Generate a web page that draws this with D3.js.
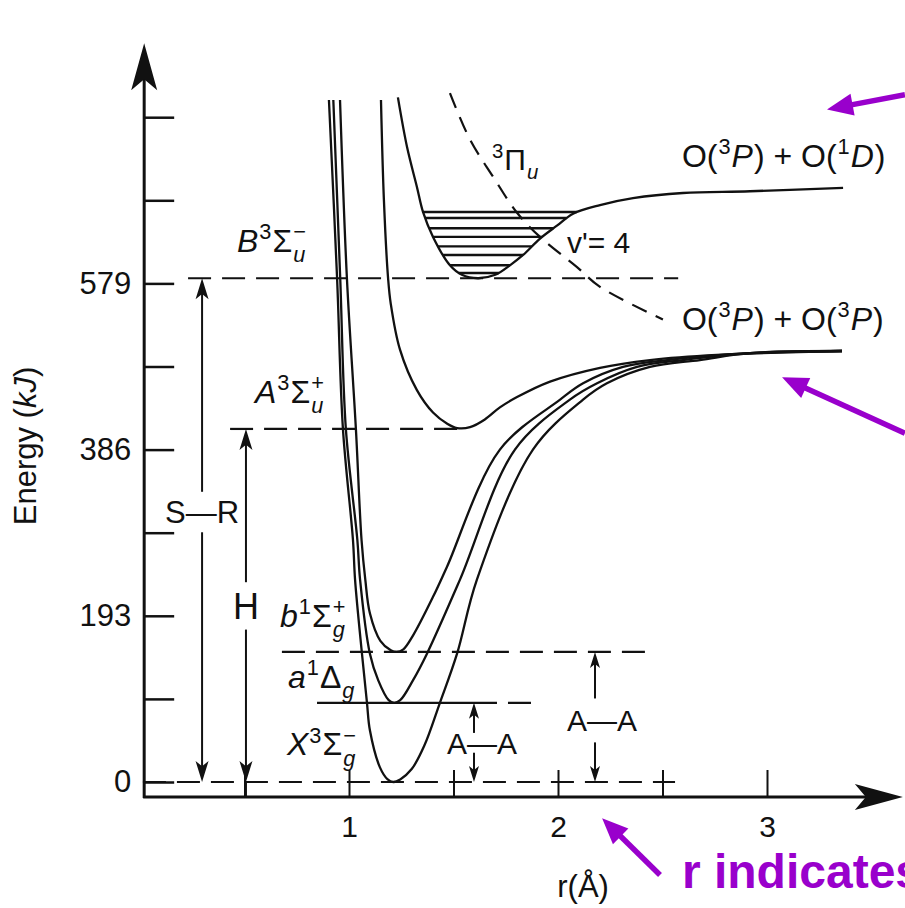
<!DOCTYPE html>
<html>
<head>
<meta charset="utf-8">
<script src="https://cdn.jsdelivr.net/npm/d3@7"></script>
<style>
  body { margin: 0; background: #fff; }
  svg { display: block; font-family: "Liberation Sans", Arial, sans-serif; }
</style>
</head>
<body>
<div id="chart"></div>
<script>
// energy axis ticks (kJ) and their labels
var yTicks = [0, 96.5, 193, 289.5, 386, 482.5, 579, 675.5, 772];
var yLabels = ["0", "", "193", "", "386", "", "579", "", ""];
// r axis ticks (Angstrom)
var xTicks = [0.5, 1, 1.5, 2, 2.5, 3];
var xLabels = ["", "1", "", "2", "", "3"];

// potential curves, [r (A), E (kJ)]
var curveX = [[0.904,792],[0.943,585],[0.971,410],[1.019,281],[1.029,235],[1.062,149],[1.086,92],[1.100,60],[1.148,17],[1.185,3],[1.211,0],[1.245,3],[1.300,15],[1.360,42],[1.435,92],[1.517,149],[1.612,235],[1.880,386],[2.120,444],[2.234,463],[2.440,482],[2.679,490],[2.919,498],[3.359,500.5]];
var curveA1 = [[0.925,792],[0.958,585],[0.985,410],[1.040,281],[1.053,235],[1.100,149],[1.140,118],[1.190,95],[1.216,92],[1.245,95],[1.306,118],[1.373,149],[1.531,235],[1.794,386],[2.057,444],[2.187,463],[2.378,482],[2.598,490],[2.919,498],[3.359,500.5]];
var curveB1 = [[0.957,792],[0.990,585],[1.033,410],[1.060,281],[1.078,235],[1.100,196],[1.150,164],[1.200,153],[1.228,151],[1.260,154],[1.306,170],[1.402,215],[1.469,250],[1.722,386],[2.010,444],[2.120,463],[2.311,482],[2.522,490],[2.919,498],[3.359,500.5]];
var curveAu = [[1.153,792],[1.167,676],[1.187,585],[1.200,555],[1.244,502],[1.325,455],[1.402,429],[1.470,416],[1.517,411],[1.579,412],[1.650,421],[1.722,435],[1.804,447],[1.962,465],[2.201,481],[2.440,490],[2.761,496],[3.359,500.5]];
var curveBu = [[1.234,795],[1.278,737],[1.325,691],[1.354,662],[1.402,633],[1.483,600],[1.540,589],[1.617,585],[1.700,589],[1.770,600],[1.833,612],[1.914,631],[1.995,646],[2.072,660],[2.201,670],[2.359,678],[2.598,684],[2.919,686],[3.364,690]];
var curvePi = [[1.483,800],[1.579,746],[1.689,703],[1.804,661],[1.914,633],[2.091,598],[2.201,575],[2.502,537]];

// vibrational levels in the B well (kJ)
var vibLevels = [662, 655, 643, 633, 622, 612, 600, 591];

// horizontal energy levels: [r from, r to, E, dashed]
var levels = [
  [0.014, 2.56, 0, true],
  [0.23, 2.575, 585, true],
  [0.431, 1.565, 410, true],
  [0.679, 2.416, 151, true],
  [0.847, 1.598, 92, false],
  [1.598, 1.876, 92, true]
];

// double arrows with a label: [r, E from, E to, label, gap lo, gap hi, size, label shift]
var gaps = [
  [0.297, 0, 585, "S\u2014R", 290, 337, 31, 0],
  [0.507, 0, 410, "H", 177, 232, 36, 0],
  [1.598, 0, 92, "A\u2014A", 34, 57, 30, 8],
  [2.177, 0, 151, "A\u2014A", 46, 97, 30, 7]
];

var width = 905, height = 908;
var x = d3.scaleLinear().domain([1, 3]).range([349, 767]);
var y = d3.scaleLinear().domain([0, 579]).range([782, 283.4]);
var rAxis = 0.02, eAxis = -17.4, eTop = 858, rEnd = 3.65;
var ink = "#111";
var purple = "#9900cc";

var svg = d3.select("#chart").append("svg")
    .attr("width", width)
    .attr("height", height);
svg.append("rect").attr("width", width).attr("height", height).attr("fill", "#fff");

var line = d3.line()
    .x(function(d) { return x(d[0]); })
    .y(function(d) { return y(d[1]); })
    .curve(d3.curveCatmullRom.alpha(0.5));

// axes
var yAxis = d3.axisLeft(y).tickValues(yTicks).tickSize(-30).tickPadding(13)
    .tickFormat(function(d, i) { return yLabels[i]; });
var gy = svg.append("g").attr("transform", "translate(" + x(rAxis) + ",0)").call(yAxis);
gy.select(".domain").remove();
gy.selectAll("line").attr("stroke", ink).attr("stroke-width", 2.5);
gy.selectAll("text").attr("font-size", 31).attr("fill", ink)
    .attr("font-family", "'Liberation Sans', Arial, sans-serif");

var xAxis = d3.axisBottom(x).tickValues(xTicks).tickSize(-27).tickPadding(19)
    .tickFormat(function(d, i) { return xLabels[i]; });
var gx = svg.append("g").attr("transform", "translate(0," + y(eAxis) + ")").call(xAxis);
gx.select(".domain").remove();
gx.selectAll("line").attr("stroke", ink).attr("stroke-width", 2);
gx.selectAll("text").attr("font-size", 30).attr("fill", ink)
    .attr("font-family", "'Liberation Sans', Arial, sans-serif");

// axis lines with arrows
var ax0 = x(rAxis), ay0 = y(eAxis), ayTop = y(eTop), axEnd = x(rEnd);
svg.append("line").attr("x1", ax0).attr("y1", ay0 + 1).attr("x2", ax0).attr("y2", ayTop + 20)
    .attr("stroke", ink).attr("stroke-width", 3);
svg.append("line").attr("x1", ax0 - 1).attr("y1", ay0).attr("x2", axEnd - 20).attr("y2", ay0)
    .attr("stroke", ink).attr("stroke-width", 3);
svg.append("path")
    .attr("d", "M" + ax0 + "," + ayTop + "L" + (ax0 - 13) + "," + (ayTop + 47) + "L" + ax0 + "," + (ayTop + 36) +
               "L" + (ax0 + 13) + "," + (ayTop + 47) + "Z")
    .attr("fill", ink);
svg.append("path")
    .attr("d", "M" + axEnd + "," + ay0 + "L" + (axEnd - 48) + "," + (ay0 - 13) + "L" + (axEnd - 37) + "," + ay0 +
               "L" + (axEnd - 48) + "," + (ay0 + 13) + "Z")
    .attr("fill", ink);

// axis titles
svg.append("text")
    .attr("transform", "translate(36," + 446 + ") rotate(-90)")
    .attr("text-anchor", "middle")
    .attr("font-size", 31)
    .attr("fill", ink)
    .html("Energy (<tspan font-style='italic'>kJ</tspan>)");
svg.append("text")
    .attr("x", x(2.12)).attr("y", 897)
    .attr("text-anchor", "middle")
    .attr("font-size", 31)
    .attr("fill", ink)
    .text("r(\u00c5)");

// energy levels
svg.selectAll(".level").data(levels).enter().append("line")
    .attr("class", "level")
    .attr("x1", function(d) { return x(d[0]); })
    .attr("x2", function(d) { return x(d[1]); })
    .attr("y1", function(d) { return y(d[2]); })
    .attr("y2", function(d) { return y(d[2]); })
    .attr("stroke", ink)
    .attr("stroke-width", 2.2)
    .attr("stroke-dasharray", function(d) { return d[3] ? "23,11" : null; });

// potential curves
var curves = [curveX, curveA1, curveB1, curveAu, curveBu];
svg.selectAll(".pot").data(curves).enter().append("path")
    .attr("class", "pot")
    .attr("d", line)
    .attr("fill", "none")
    .attr("stroke", ink)
    .attr("stroke-width", 2.3);
svg.append("path")
    .attr("d", line(curvePi))
    .attr("fill", "none")
    .attr("stroke", ink)
    .attr("stroke-width", 2.2)
    .attr("stroke-dasharray", "16,10");

// vibrational levels inside the B well, clipped to the B curve
var bNode = svg.selectAll(".pot").nodes()[4];
var total = bNode.getTotalLength();
var pts = [];
for (var s = 0; s <= total; s += 0.5) pts.push(bNode.getPointAtLength(s));
vibLevels.forEach(function(e) {
  var yy = y(e), xs = [];
  for (var i = 0; i < pts.length - 1; i++) {
    var a = pts[i], b = pts[i + 1];
    if ((a.y - yy) * (b.y - yy) <= 0 && a.y !== b.y) {
      xs.push(a.x + (b.x - a.x) * (yy - a.y) / (b.y - a.y));
    }
  }
  if (xs.length < 2) return;
  svg.append("line")
    .attr("x1", d3.min(xs)).attr("x2", d3.max(xs))
    .attr("y1", yy).attr("y2", yy)
    .attr("stroke", ink).attr("stroke-width", 2.4);
});

// arrows between levels
function head(px, py, dir, len, hw) {
  // dir = -1 tip points up, +1 tip points down
  return "M" + px + "," + py + "L" + (px - hw) + "," + (py - dir * len) + "L" + px + "," + (py - dir * len * 0.75) +
         "L" + (px + hw) + "," + (py - dir * len) + "Z";
}
gaps.forEach(function(g) {
  var gx0 = x(g[0]);
  var len = g[2] > 300 ? 21 : 16, hw = g[2] > 300 ? 6.5 : 5;
  svg.append("line").attr("x1", gx0).attr("x2", gx0)
    .attr("y1", y(g[2]) + 5).attr("y2", y(g[5]))
    .attr("stroke", ink).attr("stroke-width", 2);
  svg.append("line").attr("x1", gx0).attr("x2", gx0)
    .attr("y1", y(g[4])).attr("y2", y(g[1]) - 5)
    .attr("stroke", ink).attr("stroke-width", 2);
  svg.append("path").attr("d", head(gx0, y(g[2]), -1, len, hw)).attr("fill", ink);
  svg.append("path").attr("d", head(gx0, y(g[1]), 1, len, hw)).attr("fill", ink);
  svg.append("text")
    .attr("x", gx0 + g[7]).attr("y", (y(g[4]) + y(g[5])) / 2)
    .attr("dy", "0.36em")
    .attr("text-anchor", "middle")
    .attr("font-size", g[6])
    .attr("fill", ink)
    .text(g[3]);
});
// the H arrow runs on to the r axis
svg.append("line").attr("x1", x(0.507)).attr("x2", x(0.507))
  .attr("y1", y(0)).attr("y2", y(eAxis)).attr("stroke", ink).attr("stroke-width", 2);

// term symbols with sub/superscripts
function richLabel(parts, r, e, size) {
  var g = svg.append("g");
  var cx = x(r), y0 = y(e), lastStart = cx;
  parts.forEach(function(p) {
    var small = p.sup || p.sub;
    var fs = small ? size * 0.68 : size;
    var dy = p.sup ? -size * 0.4 : (p.sub ? size * 0.32 : 0);
    var px = p.stack ? lastStart : cx;
    var t = g.append("text")
      .attr("x", px).attr("y", y0 + dy)
      .attr("font-size", fs)
      .attr("fill", ink)
      .attr("font-style", p.i ? "italic" : "normal")
      .attr("xml:space", "preserve")
      .text(p.t);
    var w = t.node().getComputedTextLength();
    if (p.stack) {
      cx = Math.max(cx, px + w);
    } else {
      lastStart = cx;
      cx += w + 1;
    }
  });
}
var termB = [{t:"B",i:1},{t:"3",sup:1},{t:"\u03a3"},{t:"u",sub:1,i:1},{t:"\u2212",sup:1,stack:1}];
var termA = [{t:"A",i:1},{t:"3",sup:1},{t:"\u03a3"},{t:"u",sub:1,i:1},{t:"+",sup:1,stack:1}];
var termb = [{t:"b",i:1},{t:"1",sup:1},{t:"\u03a3"},{t:"g",sub:1,i:1},{t:"+",sup:1,stack:1}];
var terma = [{t:"a",i:1},{t:"1",sup:1},{t:"\u0394"},{t:"g",sub:1,i:1}];
var termX = [{t:"X",i:1},{t:"3",sup:1},{t:"\u03a3"},{t:"g",sub:1,i:1},{t:"\u2212",sup:1,stack:1}];
var termPi = [{t:"3",sup:1},{t:"\u03a0"},{t:"u",sub:1,i:1}];
var limit1D = [{t:"O("},{t:"3",sup:1},{t:"P",i:1},{t:") + O("},{t:"1",sup:1},{t:"D",i:1},{t:")"}];
var limit3P = [{t:"O("},{t:"3",sup:1},{t:"P",i:1},{t:") + O("},{t:"3",sup:1},{t:"P",i:1},{t:")"}];

richLabel(termB, 0.464, 615.5, 32);
richLabel(termA, 0.55, 440, 32);
richLabel(termb, 0.67, 180, 32);
richLabel(terma, 0.708, 109, 32);
richLabel(termX, 0.703, 31, 32);
richLabel(termPi, 1.684, 711, 30);
richLabel(limit1D, 2.593, 714, 32);
richLabel(limit3P, 2.593, 525, 32);
svg.append("text")
  .attr("x", x(2.043)).attr("y", y(614))
  .attr("font-size", 30).attr("fill", ink)
  .text("v'= 4");

// purple call-outs: [r from, E from, r to (tip), E to]
var callouts = [
  [3.66, 798, 3.287, 781],
  [3.66, 405, 3.072, 470],
  [2.488, -108, 2.211, -42]
];
callouts.forEach(function(c) {
  var x1 = x(c[0]), y1 = y(c[1]), x2 = x(c[2]), y2 = y(c[3]);
  var ang = Math.atan2(y2 - y1, x2 - x1);
  var len = 26, hw = 11;
  var bx = x2 - len * Math.cos(ang), by = y2 - len * Math.sin(ang);
  svg.append("line").attr("x1", x1).attr("y1", y1).attr("x2", bx + 4 * Math.cos(ang)).attr("y2", by + 4 * Math.sin(ang))
    .attr("stroke", purple).attr("stroke-width", 5.5);
  var nx = -Math.sin(ang), ny = Math.cos(ang);
  svg.append("path")
    .attr("d", "M" + x2 + "," + y2 + "L" + (bx + nx * hw) + "," + (by + ny * hw) +
               "L" + (bx - nx * hw) + "," + (by - ny * hw) + "Z")
    .attr("fill", purple);
});
svg.append("text")
  .attr("x", x(2.593)).attr("y", y(-123))
  .attr("font-size", 48)
  .attr("font-weight", "bold")
  .attr("fill", purple)
  .text("r indicates");
</script>
</body>
</html>
